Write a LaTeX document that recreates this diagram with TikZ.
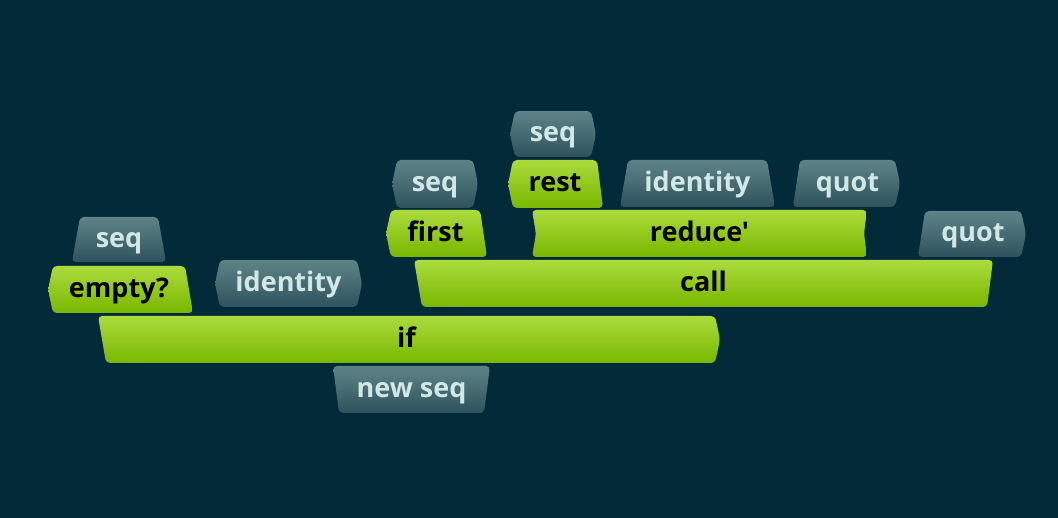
\documentclass[tikz,border=0pt]{standalone}
\usepackage{fontspec}
\newfontfamily\labelfont{Open Sans}

\definecolor{backdrop}{HTML}{022A38}
\definecolor{wordtop}{HTML}{ABDB3C}
\definecolor{wordbot}{HTML}{78B700}
\definecolor{datatop}{HTML}{5E8387}
\definecolor{databot}{HTML}{2E535D}
\definecolor{datatext}{HTML}{D2E8E6}

% edge given as top,middle,bottom x
\def\edgexyz#1,#2,#3\relax{\def\ea{#1}\def\eb{#2}\def\ec{#3}}
\newcommand{\piece}[7]{%
  \edgexyz#5\relax \let\xlt\ea \let\xlm\eb \let\xlb\ec
  \edgexyz#6\relax \let\xrt\ea \let\xrm\eb \let\xrb\ec
  \pgfmathsetmacro\ymid{(#3+#4)/2}
  \pgfmathsetmacro\xmid{(\xlt+\xrt)/2}
  \path[#1] (\xlt,#3) -- (\xrt,#3) -- (\xrm,\ymid) -- (\xrb,#4)
    -- (\xlb,#4) -- (\xlm,\ymid) -- cycle;
  \node[#1 text] (#2) at (\xmid,\ymid) {#7};
}

\begin{document}
\begin{tikzpicture}[
		x=1pt, y=-1pt,
		word/.style={rounded corners=4pt, top color=wordtop, bottom color=wordbot},
		data/.style={rounded corners=4pt, top color=datatop, bottom color=databot},
		label/.style={inner sep=0pt, text height=17pt, text depth=1.5pt,
			font=\labelfont\bfseries\fontsize{27}{27}\selectfont},
		word text/.style={label, text=black},
		data text/.style={label, text=datatext},
	]
		\fill[backdrop] (0,0) rectangle (1058,518);

		% top row
		\piece{data}{seqa}{111}{157}{515,510,515}{591,596,591}{seq}

		\piece{data}{seqb}{160}{208}{397,392,397}{473,478,473}{seq}
		\piece{word}{rest}{160}{208}{513,508,513}{597,600,603}{rest}
		\piece{data}{ida}{160}{207}{628,624,620}{767,771,775}{identity}
		\piece{data}{quota}{160}{207}{800,796.5,793}{895,900,895}{quot}

		\piece{word}{first}{210}{257}{391,386,391}{480,483.5,487}{first}
		\piece{word}{reduce}{210}{257}{532,536,532}{867,864,867}{reduce'}
		\piece{data}{quotb}{211}{257}{925,921.5,918}{1021,1026,1021}{quot}

		\piece{data}{seqc}{217}{262}{80,76,72}{158,162,166}{seq}
		\piece{word}{empty}{266}{313}{53,48,53}{185,189,193}{empty?}
		\piece{data}{idb}{260}{307}{220,215,220}{357,362,357}{identity}
		\piece{word}{call}{260}{307}{414,418,422}{993,990,987}{call}

		% bottom
		\piece{word}{if}{316}{363}{98,102,106}{715,720,715}{if}
		\piece{data}{newseq}{366}{413}{333,336,339}{490,487,484}{new seq}
	\end{tikzpicture}
\end{document}
